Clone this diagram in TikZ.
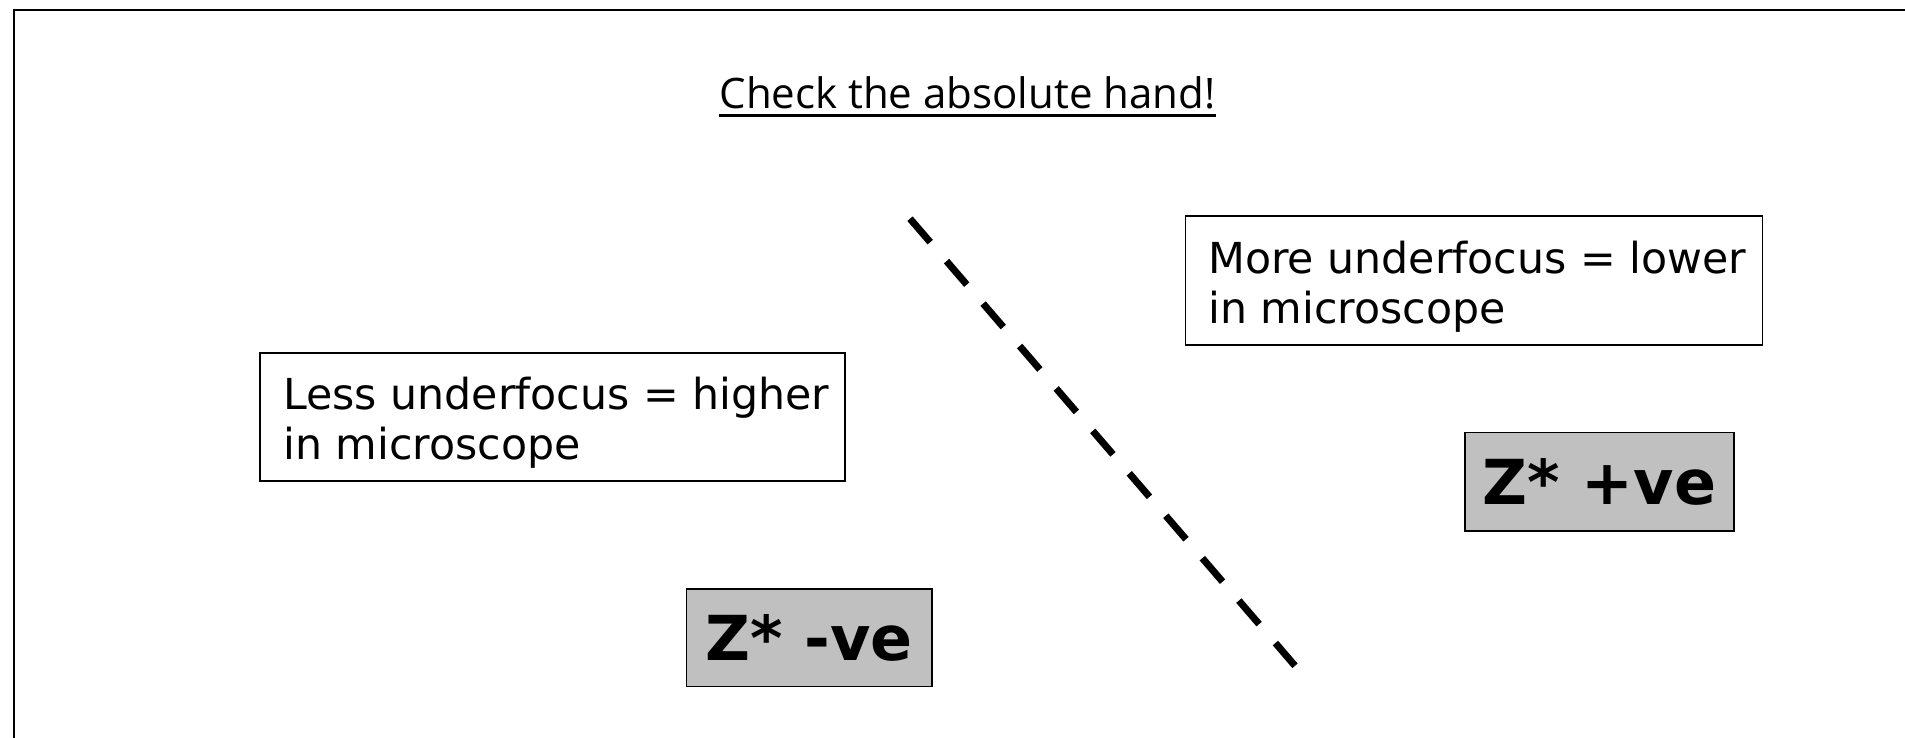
\documentclass[tikz,border=0pt]{standalone}
\usepackage{fontspec}
\setmainfont{DejaVu Sans}
\newfontfamily\titlefont{Open Sans}
\definecolor{zgray}{RGB}{192,192,192}
\begin{document}
\begin{tikzpicture}[x=1pt,y=-1pt,
  textbox/.style={draw=black, line width=1.5pt, fill=white, inner sep=0pt, anchor=north west},
  zbox/.style={draw=black, line width=1.5pt, fill=zgray, inner sep=0pt, font=\fontsize{62}{72}\selectfont\bfseries},
  bodytext/.style={inner sep=0pt, anchor=base west, font=\fontsize{42.7}{50}\selectfont},
  divider/.style={line width=7pt, dash pattern=on 31pt off 25pt}]
\useasboundingbox (0,0) rectangle (1905,738);
\fill[white] (0,0) rectangle (1905,738);
\draw[line width=2pt] (14,738) -- (14,10) -- (1905,10);
% title
\node[inner sep=0pt, anchor=base, font=\titlefont\fontsize{42}{50}\selectfont] (title) at (967.5,109) {Check the absolute hand!};
\draw[line width=3pt] ([yshift=-7pt]title.base west) -- ([yshift=-7pt]title.base east);
% left text box
\node[textbox, minimum width=585pt, minimum height=128pt] (lbox) at (259,352) {};
\node[bodytext] (ltexta) at (283,409) {Less underfocus = higher};
\node[bodytext] (ltextb) at (283,459) {in microscope};
% right text box
\node[textbox, minimum width=577pt, minimum height=129pt] (rbox) at (1184.5,215) {};
\node[bodytext] (rtexta) at (1208,273) {More underfocus = lower};
\node[bodytext] (rtextb) at (1208,323) {in microscope};
% grey boxes
\node[zbox, minimum width=268.7pt, minimum height=98.5pt] (zpos) at (1599.4,481.8) {Z* +ve};
\node[zbox, minimum width=245.4pt, minimum height=97.4pt] (zneg) at (809.1,637.7) {Z* -ve};
% dashed divider
\coordinate (dtop) at (910,218.7);
\coordinate (dbot) at (1295,665.8);
\draw[divider] (dtop) -- (dbot);
\end{tikzpicture}
\end{document}
